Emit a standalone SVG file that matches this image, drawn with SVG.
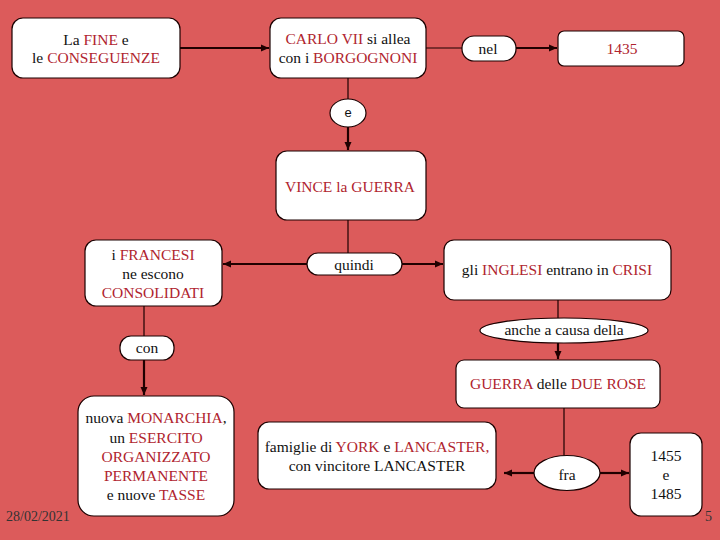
<svg xmlns="http://www.w3.org/2000/svg" width="720" height="540" viewBox="0 0 720 540">
<style>
.bg{fill:#DC5B5B}
.box{fill:#fff;stroke:#1a0000;stroke-width:1.2}
text{font-family:"Liberation Serif","Times New Roman",serif;font-size:15.5px;fill:#111;text-anchor:middle}
.r{fill:#B0242E}
.sans{font-family:"Liberation Sans",Arial,sans-serif;font-size:13px}
.ln{stroke:#1a0000;stroke-width:1.2;fill:none}
.ar{stroke:#200000;stroke-width:2.2;fill:none;marker-end:url(#ah)}
.foot{font-size:14px;fill:#333;text-anchor:start}
</style>
<defs>
<marker id="ah" markerUnits="userSpaceOnUse" markerWidth="9" markerHeight="8" refX="8" refY="4" orient="auto">
<path d="M0,0.5 L8,4 L0,7.5 z" fill="#200000"/>
</marker>
</defs>
<rect class="bg" x="0" y="0" width="720" height="540"/>
<g id="connectors">
<path class="ar" d="M180,48 H269"/>
<path class="ln" d="M426,48 H462"/>
<path class="ar" d="M516,48 H557"/>
<path class="ln" d="M348,78 V99"/>
<path class="ar" d="M348,127 V150"/>
<path class="ln" d="M348,220 V253"/>
<path class="ar" d="M307,264 H223"/>
<path class="ar" d="M402,264 H443"/>
<path class="ln" d="M144,306 V336"/>
<path class="ar" d="M144,360 V395"/>
<path class="ln" d="M558,300 V318"/>
<path class="ar" d="M558,343 V359"/>
<path class="ln" d="M564,408 V456"/>
<path class="ar" d="M534,473 H504"/>
<path class="ar" d="M600,473 H629"/>
</g>
<g id="n-fine">
<rect class="box" x="12" y="18" width="168" height="60" rx="11"/>
<text x="96" y="45">La <tspan class="r">FINE</tspan> e</text>
<text x="96" y="63">le <tspan class="r">CONSEGUENZE</tspan></text>
</g>
<g id="n-carlo">
<rect class="box" x="270" y="18" width="156" height="60" rx="11"/>
<text x="348" y="44"><tspan class="r">CARLO VII</tspan> si allea</text>
<text x="348" y="63">con i <tspan class="r">BORGOGNONI</tspan></text>
</g>
<g id="n-nel">
<rect class="box" x="462" y="36" width="54" height="25" rx="12"/>
<text x="488" y="54">nel</text>
</g>
<g id="n-1435">
<rect class="box" x="558" y="31" width="126" height="35" rx="6"/>
<text class="r" x="622" y="54">1435</text>
</g>
<g id="n-e">
<ellipse class="box" cx="348" cy="113" rx="18" ry="14"/>
<text class="sans" x="348" y="117">e</text>
</g>
<g id="n-vince">
<rect class="box" x="276" y="151" width="150" height="69" rx="11"/>
<text class="r" x="350" y="192">VINCE la GUERRA</text>
</g>
<g id="n-quindi">
<rect class="box" x="307" y="253" width="95" height="22" rx="11"/>
<text x="354" y="270">quindi</text>
</g>
<g id="n-francesi">
<rect class="box" x="85" y="240" width="137" height="66" rx="11"/>
<text x="153" y="260">i <tspan class="r">FRANCESI</tspan></text>
<text x="153" y="279">ne escono</text>
<text class="r" x="153" y="298">CONSOLIDATI</text>
</g>
<g id="n-inglesi">
<rect class="box" x="444" y="240" width="227" height="60" rx="10"/>
<text x="557" y="275">gli <tspan class="r">INGLESI</tspan> entrano in <tspan class="r">CRISI</tspan></text>
</g>
<g id="n-con">
<rect class="box" x="120" y="336" width="54" height="24" rx="11"/>
<text x="147" y="353">con</text>
</g>
<g id="n-anche">
<ellipse class="box" cx="564" cy="330.5" rx="84" ry="12.5"/>
<text x="564" y="335">anche a causa della</text>
</g>
<g id="n-dueRose">
<rect class="box" x="456" y="360" width="204" height="48" rx="8"/>
<text class="r" x="558" y="389">GUERRA <tspan fill="#111">delle</tspan> DUE ROSE</text>
</g>
<g id="n-monarchia">
<rect class="box" x="78" y="396" width="156" height="120" rx="16"/>
<text x="156" y="423">nuova <tspan class="r">MONARCHIA</tspan>,</text>
<text x="156" y="443">un <tspan class="r">ESERCITO</tspan></text>
<text class="r" x="156" y="462">ORGANIZZATO</text>
<text class="r" x="156" y="481">PERMANENTE</text>
<text x="156" y="500">e nuove <tspan class="r">TASSE</tspan></text>
</g>
<g id="n-famiglie">
<rect class="box" x="258" y="422" width="238" height="67" rx="11"/>
<text x="377" y="452">famiglie di <tspan class="r">YORK</tspan> e <tspan class="r">LANCASTER,</tspan></text>
<text x="377" y="471">con vincitore LANCASTER</text>
</g>
<g id="n-fra">
<ellipse class="box" cx="567" cy="473" rx="33" ry="17.5"/>
<text x="567" y="480">fra</text>
</g>
<g id="n-date">
<rect class="box" x="630" y="433" width="72" height="83" rx="11"/>
<text x="666" y="461">1455</text>
<text x="666" y="480">e</text>
<text x="666" y="499">1485</text>
</g>
<text class="foot" x="6" y="521">28/02/2021</text>
<text class="foot" x="705" y="521">5</text>
</svg>
